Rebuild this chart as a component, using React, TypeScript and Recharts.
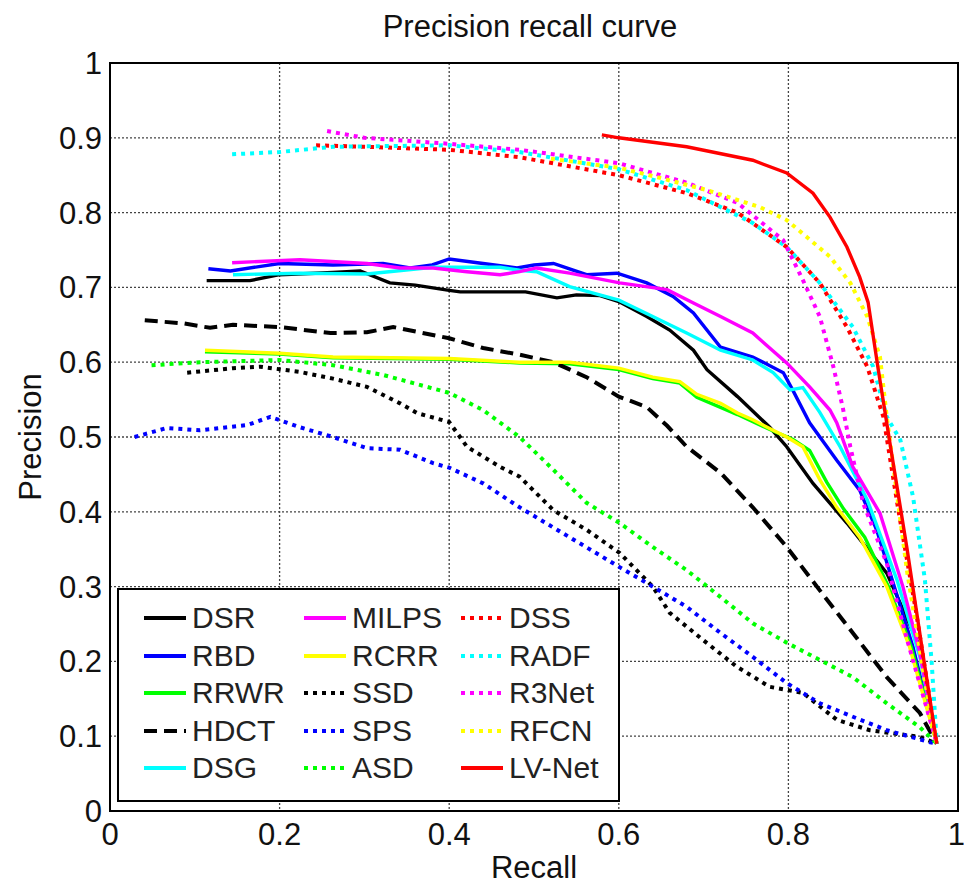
import React from "react";
import {
  LineChart,
  Line,
  XAxis,
  YAxis,
  CartesianGrid,
  Legend,
  ReferenceArea,
} from "recharts";

type Pt = [number, number];

// recall / precision pairs
const DSR: Pt[] = [[0.114,0.709],[0.165,0.709],[0.2,0.717],[0.263,0.72],[0.295,0.722],[0.33,0.706],[0.36,0.703],[0.4,0.696],[0.413,0.694],[0.45,0.694],[0.49,0.694],[0.527,0.686],[0.55,0.69],[0.578,0.689],[0.6,0.681],[0.633,0.661],[0.66,0.643],[0.688,0.616],[0.704,0.59],[0.74,0.554],[0.778,0.513],[0.798,0.487],[0.829,0.438],[0.869,0.385],[0.916,0.318],[0.955,0.219],[0.975,0.09]];
const RBD: Pt[] = [[0.116,0.725],[0.142,0.722],[0.2,0.732],[0.263,0.73],[0.322,0.732],[0.354,0.726],[0.38,0.73],[0.4,0.738],[0.44,0.732],[0.48,0.726],[0.5,0.73],[0.523,0.732],[0.562,0.717],[0.598,0.719],[0.633,0.706],[0.664,0.688],[0.688,0.666],[0.72,0.62],[0.758,0.607],[0.794,0.586],[0.805,0.563],[0.825,0.519],[0.857,0.469],[0.884,0.429],[0.904,0.376],[0.92,0.318],[0.947,0.219],[0.975,0.09]];
const RRWR: Pt[] = [[0.112,0.614],[0.2,0.611],[0.263,0.606],[0.4,0.604],[0.483,0.599],[0.542,0.598],[0.6,0.59],[0.64,0.578],[0.672,0.572],[0.692,0.553],[0.74,0.53],[0.782,0.508],[0.805,0.497],[0.825,0.482],[0.845,0.44],[0.865,0.404],[0.89,0.366],[0.918,0.3],[0.945,0.219],[0.975,0.09]];
const HDCT: Pt[] = [[0.041,0.656],[0.086,0.652],[0.118,0.646],[0.145,0.65],[0.2,0.647],[0.26,0.639],[0.303,0.64],[0.334,0.647],[0.4,0.632],[0.44,0.619],[0.483,0.61],[0.523,0.6],[0.562,0.58],[0.6,0.554],[0.633,0.54],[0.657,0.515],[0.68,0.487],[0.72,0.452],[0.758,0.406],[0.798,0.353],[0.837,0.295],[0.876,0.238],[0.916,0.179],[0.955,0.131],[0.975,0.09]];
const DSG: Pt[] = [[0.145,0.717],[0.224,0.719],[0.303,0.718],[0.381,0.727],[0.46,0.727],[0.483,0.723],[0.503,0.721],[0.542,0.701],[0.6,0.683],[0.64,0.661],[0.68,0.639],[0.72,0.616],[0.758,0.603],[0.782,0.586],[0.802,0.563],[0.817,0.566],[0.837,0.533],[0.861,0.487],[0.893,0.416],[0.928,0.309],[0.955,0.206],[0.975,0.09]];
const MILPS: Pt[] = [[0.144,0.733],[0.224,0.737],[0.303,0.732],[0.342,0.726],[0.381,0.726],[0.421,0.721],[0.46,0.717],[0.483,0.721],[0.503,0.726],[0.542,0.719],[0.601,0.706],[0.657,0.697],[0.688,0.679],[0.72,0.661],[0.758,0.639],[0.798,0.599],[0.825,0.567],[0.849,0.536],[0.857,0.519],[0.876,0.46],[0.908,0.398],[0.935,0.3],[0.955,0.211],[0.975,0.09]];
const RCRR: Pt[] = [[0.112,0.616],[0.2,0.612],[0.263,0.607],[0.4,0.605],[0.483,0.6],[0.542,0.6],[0.6,0.592],[0.64,0.58],[0.672,0.574],[0.692,0.557],[0.72,0.545],[0.74,0.532],[0.758,0.523],[0.782,0.509],[0.798,0.5],[0.817,0.487],[0.837,0.443],[0.857,0.406],[0.884,0.366],[0.916,0.3],[0.943,0.219],[0.975,0.09]];
const SSD: Pt[] = [[0.091,0.586],[0.145,0.592],[0.177,0.594],[0.224,0.587],[0.263,0.578],[0.303,0.567],[0.342,0.545],[0.362,0.532],[0.4,0.52],[0.421,0.487],[0.46,0.46],[0.483,0.447],[0.523,0.402],[0.562,0.376],[0.601,0.345],[0.64,0.3],[0.66,0.265],[0.699,0.229],[0.739,0.193],[0.778,0.166],[0.817,0.158],[0.857,0.122],[0.896,0.108],[0.955,0.099],[0.975,0.09]];
const SPS: Pt[] = [[0.029,0.5],[0.067,0.512],[0.106,0.509],[0.162,0.516],[0.189,0.527],[0.224,0.513],[0.263,0.5],[0.303,0.485],[0.342,0.483],[0.381,0.465],[0.4,0.459],[0.44,0.438],[0.483,0.406],[0.542,0.366],[0.601,0.326],[0.64,0.3],[0.68,0.273],[0.72,0.238],[0.758,0.206],[0.798,0.171],[0.837,0.144],[0.876,0.126],[0.916,0.108],[0.967,0.092],[0.975,0.09]];
const ASD: Pt[] = [[0.049,0.596],[0.106,0.6],[0.2,0.603],[0.263,0.596],[0.322,0.583],[0.4,0.559],[0.44,0.536],[0.483,0.5],[0.523,0.456],[0.562,0.412],[0.601,0.385],[0.64,0.353],[0.68,0.322],[0.72,0.286],[0.758,0.251],[0.798,0.225],[0.837,0.202],[0.876,0.179],[0.916,0.144],[0.955,0.112],[0.975,0.09]];
const DSS: Pt[] = [[0.243,0.89],[0.3,0.888],[0.4,0.884],[0.483,0.874],[0.6,0.85],[0.68,0.826],[0.74,0.8],[0.798,0.754],[0.837,0.706],[0.869,0.647],[0.893,0.594],[0.912,0.527],[0.93,0.4],[0.95,0.27],[0.975,0.09]];
const RADF: Pt[] = [[0.144,0.878],[0.2,0.881],[0.263,0.888],[0.4,0.89],[0.483,0.881],[0.6,0.858],[0.68,0.83],[0.758,0.786],[0.798,0.754],[0.837,0.706],[0.876,0.647],[0.9,0.594],[0.916,0.527],[0.932,0.496],[0.947,0.42],[0.961,0.309],[0.969,0.198],[0.975,0.09]];
const R3NET: Pt[] = [[0.256,0.909],[0.3,0.9],[0.4,0.892],[0.483,0.884],[0.6,0.866],[0.68,0.84],[0.74,0.813],[0.794,0.763],[0.817,0.71],[0.837,0.661],[0.853,0.594],[0.864,0.54],[0.873,0.487],[0.888,0.412],[0.916,0.331],[0.94,0.229],[0.975,0.09]];
const RFCN: Pt[] = [[0.52,0.872],[0.6,0.86],[0.65,0.846],[0.704,0.83],[0.767,0.807],[0.798,0.79],[0.822,0.767],[0.849,0.741],[0.873,0.706],[0.893,0.661],[0.908,0.607],[0.916,0.527],[0.925,0.45],[0.94,0.32],[0.96,0.18],[0.975,0.09]];
const LVNET: Pt[] = [[0.58,0.904],[0.6,0.9],[0.68,0.888],[0.758,0.87],[0.798,0.853],[0.829,0.826],[0.849,0.794],[0.869,0.754],[0.884,0.714],[0.894,0.68],[0.906,0.59],[0.92,0.49],[0.94,0.35],[0.96,0.2],[0.975,0.09]];

const xTicks = [0, 0.2, 0.4, 0.6, 0.8, 1];
const yTicks = [0, 0.1, 0.2, 0.3, 0.4, 0.5, 0.6, 0.7, 0.8, 0.9, 1];

const SOLID = undefined;
const DOT = "4 5";
const DASH = "13 7";

const series = [
  { name: "DSR", pts: DSR, color: "#000000", dash: SOLID },
  { name: "RBD", pts: RBD, color: "#0000ff", dash: SOLID },
  { name: "RRWR", pts: RRWR, color: "#00ff00", dash: SOLID },
  { name: "HDCT", pts: HDCT, color: "#000000", dash: DASH },
  { name: "DSG", pts: DSG, color: "#00ffff", dash: SOLID },
  { name: "MILPS", pts: MILPS, color: "#ff00ff", dash: SOLID },
  { name: "RCRR", pts: RCRR, color: "#ffff00", dash: SOLID },
  { name: "SSD", pts: SSD, color: "#000000", dash: DOT },
  { name: "SPS", pts: SPS, color: "#0000ff", dash: DOT },
  { name: "ASD", pts: ASD, color: "#00ff00", dash: DOT },
  { name: "DSS", pts: DSS, color: "#ff0000", dash: DOT },
  { name: "RADF", pts: RADF, color: "#00ffff", dash: DOT },
  { name: "R3Net", pts: R3NET, color: "#ff00ff", dash: DOT },
  { name: "RFCN", pts: RFCN, color: "#ffff00", dash: DOT },
  { name: "LV-Net", pts: LVNET, color: "#ff0000", dash: SOLID },
];

const FONT = '"Liberation Sans", Arial, Helvetica, sans-serif';
const FS = 31;

const toRows = (pts: Pt[]) => pts.map(([r, p]) => ({ r, p }));

// matlab style legend box, 3 columns x 5 rows
const LegendBox = () => (
  <div
    style={{
      position: "relative",
      width: 503,
      height: 214,
      boxSizing: "border-box",
      border: "2px solid #000",
      background: "#fff",
      fontFamily: FONT,
    }}
  >
    {series.map((s, i) => {
      const col = Math.floor(i / 5);
      const row = i % 5;
      const left = [24, 184, 341][col];
      const top = 28 + row * 37.6;
      return (
        <div
          key={s.name}
          style={{ position: "absolute", left, top: top - 18, height: 36, display: "flex", alignItems: "center" }}
        >
          <svg width={44} height={8} style={{ display: "block" }}>
            <line x1={1} y1={4} x2={43} y2={4} stroke={s.color} strokeWidth={s.dash ? 4 : 4} strokeDasharray={s.dash} />
          </svg>
          <span style={{ marginLeft: 5, fontSize: 30, color: "#222", lineHeight: "36px" }}>{s.name}</span>
        </div>
      );
    })}
  </div>
);

export default function App() {
  return (
    <div style={{ position: "absolute", left: 0, top: 0, width: 964, height: 885, background: "#fff", fontFamily: FONT }}>
      <div
        style={{
          position: "absolute",
          left: 0,
          width: 1060,
          top: 11,
          textAlign: "center",
          fontSize: FS,
          lineHeight: "31px",
          color: "#111",
        }}
      >
        Precision recall curve
      </div>
      <LineChart width={964} height={885} margin={{ top: 63, right: 6, bottom: 0, left: 10 }}>
        <CartesianGrid stroke="#444" strokeDasharray="2 2" strokeWidth={1.3} />
        <XAxis
          type="number"
          dataKey="r"
          domain={[0, 1]}
          ticks={xTicks}
          height={74}
          tickLine={false}
          axisLine={false}
          tickSize={6}
          tickMargin={6}
          tick={{ fontSize: FS, fill: "#111", fontFamily: FONT }}
          label={{ value: "Recall", position: "insideBottom", offset: 7, fontSize: FS, fill: "#111", fontFamily: FONT }}
        />
        <YAxis
          type="number"
          domain={[0, 1]}
          ticks={yTicks}
          width={100}
          tickLine={false}
          axisLine={false}
          tickSize={6}
          tickMargin={2}
          tick={{ fontSize: FS, fill: "#111", fontFamily: FONT }}
          label={{
            value: "Precision",
            angle: -90,
            position: "insideLeft",
            offset: 20,
            fontSize: FS,
            fill: "#111",
            fontFamily: FONT,
            style: { textAnchor: "middle" },
          }}
        />
        {series.map((s) => (
          <Line
            key={s.name}
            name={s.name}
            data={toRows(s.pts)}
            dataKey="p"
            type="linear"
            stroke={s.color}
            strokeWidth={s.dash ? 4 : 3.4}
            strokeDasharray={s.dash}
            dot={false}
            activeDot={false}
            isAnimationActive={false}
          />
        ))}
        <ReferenceArea x1={0} x2={1} y1={0} y2={1} fill="none" stroke="#000" strokeWidth={2} ifOverflow="visible" />
        <Legend
          layout="horizontal"
          verticalAlign="middle"
          align="center"
          wrapperStyle={{ left: 117, top: 588, width: 503, height: 214 }}
          content={() => <LegendBox />}
        />
      </LineChart>
    </div>
  );
}
